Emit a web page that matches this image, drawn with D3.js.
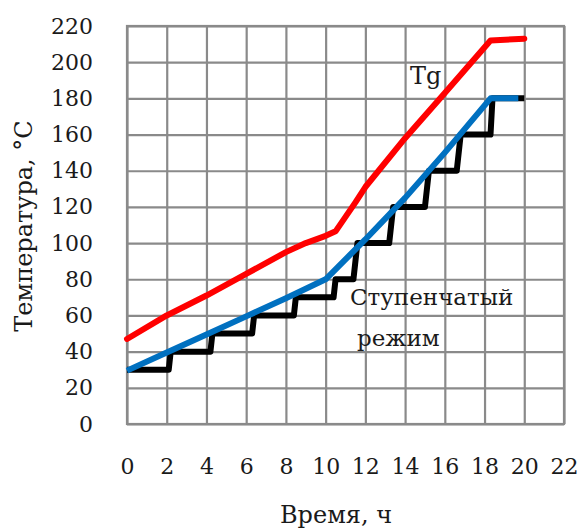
<!DOCTYPE html>
<html>
<head>
<meta charset="utf-8">
<script src="https://cdn.jsdelivr.net/npm/d3@7"></script>
<style>
  body { margin: 0; background: #fff; }
  text { font-family: "DejaVu Serif", serif; fill: #1a1a1a; }
</style>
</head>
<body>
<div class="chart"></div>
<script>
window.onload = function() {

  // Tg curve
  var tgTime = [0, 2, 4, 6, 8, 9, 10, 10.5, 11.5, 12, 14, 16, 18.3, 20];
  var tgTemp = [47, 60, 71, 83, 95, 100, 104, 106.5, 122.5, 131, 158, 183, 212, 213];

  // linear (blue) mode
  var linTime = [0, 2, 4, 6, 8, 10, 12, 14, 16, 18.3, 19.7];
  var linTemp = [29.5, 39.5, 49.5, 59.5, 69.5, 80, 102, 125, 150, 180, 180];

  // step mode
  var stepTime = [0, 2.1, 2.2, 4.2, 4.3, 6.3, 6.4, 8.4, 8.5, 10.4, 10.5, 11.4, 11.6, 13.2, 13.4, 15.0, 15.2, 16.6, 16.8, 18.3, 18.4, 20];
  var stepTemp = [30, 30, 40, 40, 50, 50, 60, 60, 70, 70, 80, 80, 100, 100, 120, 120, 140, 140, 160, 160, 180, 180];

  var xTicks = [0, 2, 4, 6, 8, 10, 12, 14, 16, 18, 20, 22];
  var yTicks = [0, 20, 40, 60, 80, 100, 120, 140, 160, 180, 200, 220];

  var margin = {top: 26, right: 16, bottom: 106, left: 127},
      width = 580 - margin.left - margin.right,
      height = 530 - margin.top - margin.bottom;

  var svg = d3.select("div.chart")
    .append("svg")
      .attr("width", 580)
      .attr("height", 530);

  var g = svg.append("g")
      .attr("transform", "translate(" + margin.left + "," + margin.top + ")");

  var x = d3.scaleLinear().domain([0, 22]).range([0, width]);
  var y = d3.scaleLinear().domain([0, 220]).range([height, 0]);

  // grid
  g.append("g")
      .attr("class", "grid")
      .call(d3.axisLeft(y).tickValues(yTicks).tickSize(-width).tickFormat(""))
      .call(function(s) { s.select(".domain").remove(); });
  g.append("g")
      .attr("class", "grid")
      .attr("transform", "translate(0," + height + ")")
      .call(d3.axisBottom(x).tickValues(xTicks).tickSize(-height).tickFormat(""))
      .call(function(s) { s.select(".domain").remove(); });
  g.selectAll(".grid line")
      .style("stroke", "#8a8a8a")
      .style("stroke-width", 2.2);
  g.append("rect")
      .attr("width", width)
      .attr("height", height)
      .style("fill", "none")
      .style("stroke", "#8a8a8a")
      .style("stroke-width", 2.2);

  // tick labels
  var yAxis = g.append("g")
      .call(d3.axisLeft(y).tickValues(yTicks).tickSize(0).tickPadding(34));
  yAxis.select(".domain").remove();
  yAxis.selectAll("text").style("font-size", "22px").style("font-family", "DejaVu Serif");

  var xAxis = g.append("g")
      .attr("transform", "translate(0," + height + ")")
      .call(d3.axisBottom(x).tickValues(xTicks).tickSize(0).tickPadding(34));
  xAxis.select(".domain").remove();
  xAxis.selectAll("text").style("font-size", "22px").style("font-family", "DejaVu Serif");

  // lines
  var line = d3.line()
      .x(function(d) { return x(d[0]); })
      .y(function(d) { return y(d[1]); });

  function pairs(a, b) { return a.map(function(v, i) { return [v, b[i]]; }); }

  g.append("path")
      .datum(pairs(stepTime, stepTemp))
      .attr("d", line)
      .style("fill", "none")
      .style("stroke", "#000")
      .style("stroke-width", 6)
      .style("stroke-linejoin", "round");

  g.append("path")
      .datum(pairs(linTime, linTemp))
      .attr("d", line)
      .style("fill", "none")
      .style("stroke", "#0070c0")
      .style("stroke-width", 6)
      .style("stroke-linejoin", "round");

  g.append("path")
      .datum(pairs(tgTime, tgTemp))
      .attr("d", line)
      .style("fill", "none")
      .style("stroke", "#ff0000")
      .style("stroke-width", 6)
      .style("stroke-linejoin", "round")
      .style("stroke-linecap", "round");

  // annotations
  svg.append("text").attr("x", 410).attr("y", 84).style("font-size", "24px").text("Tg");
  svg.append("text").attr("x", 350).attr("y", 305).style("font-size", "23px").text("Ступенчатый");
  svg.append("text").attr("x", 357).attr("y", 346).style("font-size", "23px").text("режим");

  // axis titles
  svg.append("text")
      .attr("x", 336).attr("y", 523)
      .attr("text-anchor", "middle")
      .style("font-size", "24px")
      .text("Время, ч");
  svg.append("text")
      .attr("transform", "translate(32,226) rotate(-90)")
      .attr("text-anchor", "middle")
      .style("font-size", "24px")
      .text("Температура, °C");
}
</script>
</body>
</html>
